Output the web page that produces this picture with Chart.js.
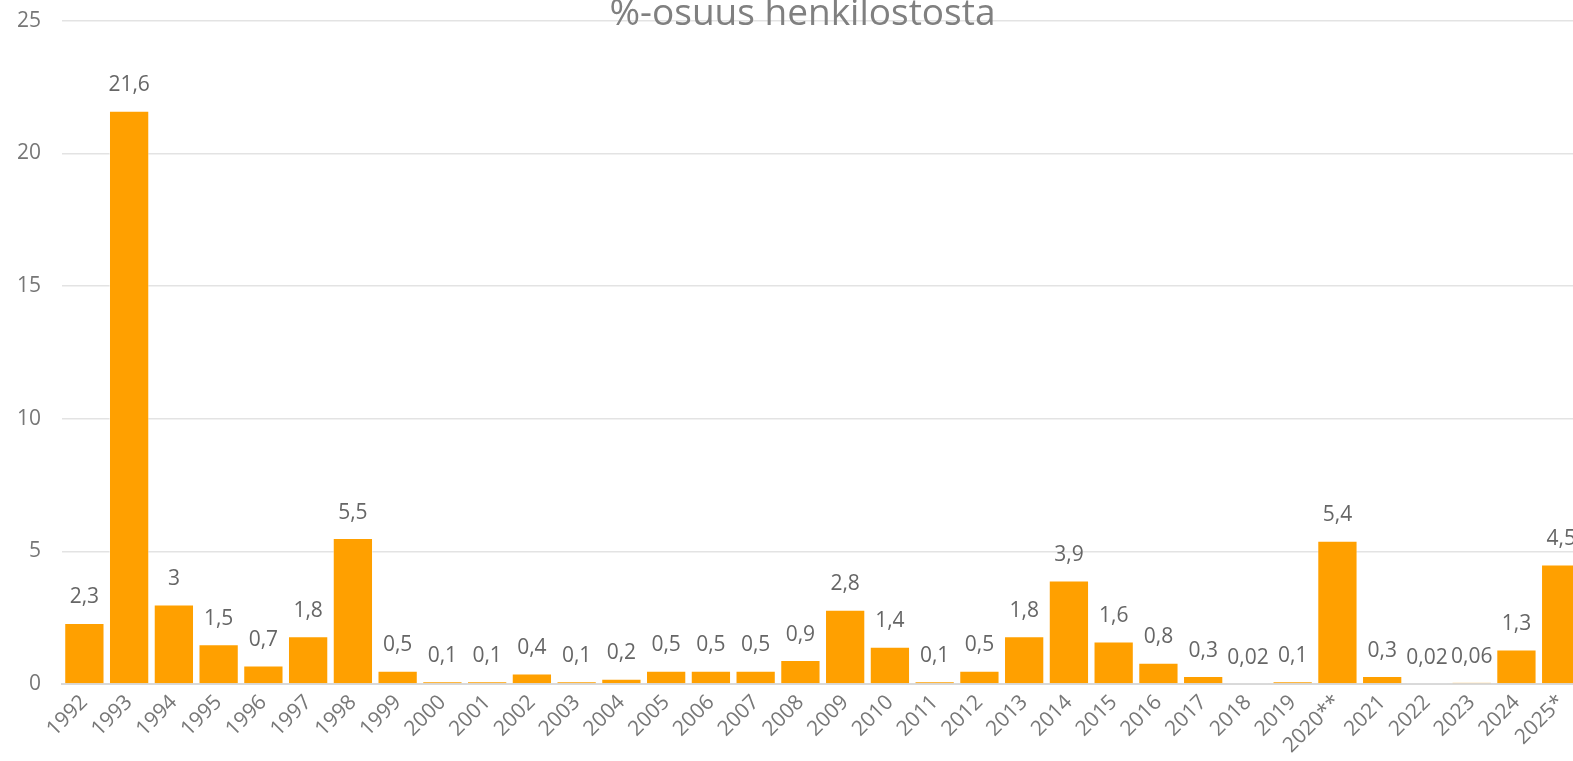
<!DOCTYPE html>
<html>
<head>
<meta charset="utf-8">
<script src="https://cdn.jsdelivr.net/npm/chart.js@4"></script>
<style>
  html, body { margin: 0; padding: 0; overflow: hidden; background: #fff; }
  #wrap { width: 1585px; height: 774px; margin-top: -13px; }
  canvas { display: block; }
</style>
</head>
<body>
<div id="wrap"><canvas id="canvas1" width="1585" height="774"></canvas></div>
<script>
var years = ['1992', '1993', '1994', '1995', '1996', '1997', '1998', '1999', '2000', '2001',
    '2002', '2003', '2004', '2005', '2006', '2007', '2008', '2009', '2010', '2011',
    '2012', '2013', '2014', '2015', '2016', '2017', '2018', '2019', '2020**', '2021',
    '2022', '2023', '2024', '2025*'];
var shares = [2.3, 21.6, 3, 1.5, 0.7, 1.8, 5.5, 0.5, 0.1, 0.1,
    0.4, 0.1, 0.2, 0.5, 0.5, 0.5, 0.9, 2.8, 1.4, 0.1,
    0.5, 1.8, 3.9, 1.6, 0.8, 0.3, 0.02, 0.1, 5.4, 0.3,
    0.02, 0.06, 1.3, 4.5];
var yTicks = [0, 5, 10, 15, 20, 25];

var fontFamily = '"Open Sans", "Noto Sans", sans-serif';

// values on top of the bars, finnish decimal comma
var valueLabels = {
    id: 'valueLabels',
    afterDatasetsDraw: function(chart) {
        var ctx = chart.ctx;
        var meta = chart.getDatasetMeta(0);
        ctx.save();
        ctx.font = '21px ' + fontFamily;
        ctx.fillStyle = '#666666';
        ctx.textAlign = 'center';
        ctx.textBaseline = 'bottom';
        meta.data.forEach(function(bar, i) {
            var txt = String(shares[i]).replace('.', ',');
            ctx.fillText(txt, bar.x, bar.y - 15);
        });
        ctx.restore();
    }
};

// title sits half above the visible area in the original
var topTitle = {
    id: 'topTitle',
    afterDraw: function(chart) {
        var ctx = chart.ctx;
        ctx.save();
        ctx.font = '37px ' + fontFamily;
        ctx.fillStyle = '#808080';
        ctx.textAlign = 'center';
        ctx.textBaseline = 'alphabetic';
        ctx.fillText('%-osuus henkilostosta', chart.width / 2 + 10, chart.chartArea.top + 4);
        ctx.restore();
    }
};

var config1 = {
    type: 'bar',
    data: {
        labels: years,
        datasets: [{
            label: '%-osuus henkilostosta',
            data: shares,
            backgroundColor: '#FFA000',
            borderColor: 'rgba(255,255,255,0.45)',
            borderWidth: 1,
            barPercentage: 0.9,
            categoryPercentage: 1.0
        }]
    },
    options: {
        responsive: false,
        animation: false,
        layout: { padding: { top: 7, left: 0, right: 0, bottom: 0 } },
        plugins: {
            legend: { display: false },
            title: { display: false },
            tooltip: { enabled: false }
        },
        scales: {
            y: {
                min: 0,
                max: 25,
                afterFit: function(scale) { scale.width = 62; },
                afterBuildTicks: function(scale) {
                    scale.ticks = yTicks.map(function(v) { return { value: v }; });
                },
                border: { display: false },
                grid: { color: '#e3e3e3', lineWidth: 1.5, drawTicks: false },
                ticks: {
                    padding: 21,
                    color: '#777777',
                    font: { family: fontFamily, size: 21 }
                }
            },
            x: {
                afterFit: function(scale) { scale.height = 77; },
                grid: { display: false, drawTicks: false },
                border: { display: true, color: '#d9d9d9', width: 2 },
                ticks: {
                    maxRotation: 45,
                    minRotation: 45,
                    autoSkip: false,
                    padding: 6,
                    color: '#777777',
                    font: { family: fontFamily, size: 21 }
                }
            }
        }
    },
    plugins: [valueLabels, topTitle]
};

function loadBarChart() {
    var ctx = document.getElementById('canvas1').getContext('2d');
    window.myBar = new Chart(ctx, config1);
}
loadBarChart();
</script>
</body>
</html>
